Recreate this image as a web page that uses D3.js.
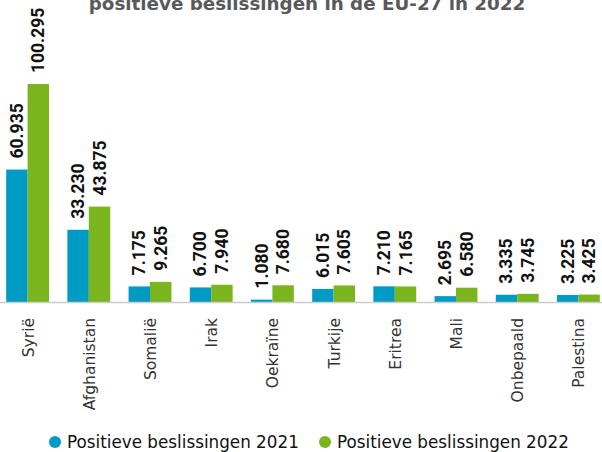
<!DOCTYPE html>
<html><head><meta charset="utf-8">
<script src="https://cdn.jsdelivr.net/npm/d3@7"></script>
<style>body{margin:0;background:#fff}svg{display:block}</style>
</head><body>
<svg id="c" width="602" height="452"></svg>
<script>
const categories = ["Syrië","Afghanistan","Somalië","Irak","Oekraïne","Turkije","Eritrea","Mali","Onbepaald","Palestina"];
const values2021 = [60.935,33.230,7.175,6.700,1.080,6.015,7.210,2.695,3.335,3.225];
const values2022 = [100.295,43.875,9.265,7.940,7.680,7.605,7.165,6.580,3.745,3.425];
const seriesNames = ["Positieve beslissingen 2021","Positieve beslissingen 2022"];
const labels2021 = ["60.935","33.230","7.175","6.700","1.080","6.015","7.210","2.695","3.335","3.225"];
const labels2022 = ["100.295","43.875","9.265","7.940","7.680","7.605","7.165","6.580","3.745","3.425"];
const titleText = "positieve beslissingen in de EU-27 in 2022";

const colors = ["#009bc4","#7ab51e"];
const svg = d3.select("#c");
const font = "Roboto, 'Noto Sans', sans-serif";
const font2 = "'DejaVu Sans', Verdana, sans-serif";

const x0 = d3.scaleBand().domain(categories).range([-3, 609]).paddingInner(0.3).paddingOuter(0.15);
const x1 = d3.scaleBand().domain([0,1]).range([0, x0.bandwidth()]);
const y = d3.scaleLinear().domain([0, d3.max(values2022)]).range([302, 84]);

svg.append("text").attr("x", 307).attr("y", 10).attr("text-anchor","middle")
  .attr("font-family", font2).attr("font-weight","bold").attr("font-size", 18.3)
  .attr("fill","#58595b").text(titleText);

const data = categories.map((c,i)=>({c, v:[values2021[i], values2022[i]], l:[labels2021[i], labels2022[i]]}));

const g = svg.append("g").selectAll("g").data(data).join("g")
  .attr("transform", d=>`translate(${x0(d.c)},0)`);

g.selectAll("rect").data(d=>d.v.map((v,k)=>({v,k}))).join("rect")
  .attr("x", d=>x1(d.k)).attr("width", x1.bandwidth())
  .attr("y", d=>y(d.v)).attr("height", d=>y(0)-y(d.v))
  .attr("fill", d=>colors[d.k]);

g.selectAll("text.val").data(d=>d.v.map((v,k)=>({v,k,l:d.l[k]}))).join("text")
  .attr("class","val")
  .attr("transform", d=>`translate(${x1(d.k)+x1.bandwidth()/2+6},${y(d.v)-11}) rotate(-90)`)
  .attr("font-family", font).attr("font-weight","bold").attr("font-size", 17.5)
  .attr("fill","#111").text(d=>d.l);

// axis
const xAxis = d3.axisBottom(x0).tickSize(0).tickPadding(0);
const ax = svg.append("g").attr("transform","translate(0,302)").call(xAxis);
ax.select(".domain").remove();
svg.append("line").attr("x1",0).attr("x2",602).attr("y1",302.5).attr("y2",302.5)
  .attr("stroke","#cccccc").attr("stroke-width",1.5);
ax.selectAll(".tick text")
  .attr("font-family", font2).attr("font-size", 15.5).attr("fill","#333")
  .attr("text-anchor","end").attr("dy", null).attr("y", 0)
  .attr("transform","translate(6,16) rotate(-90)");

// legend
const leg = svg.append("g");
const lx = [55, 325];
seriesNames.forEach((n,k)=>{
  leg.append("circle").attr("cx", lx[k]).attr("cy", 442).attr("r", 6).attr("fill", colors[k]);
  leg.append("text").attr("x", lx[k]+12).attr("y", 448)
    .attr("font-family", font2).attr("font-size", 16.8).attr("fill","#111").text(n);
});
</script>
</body></html>
